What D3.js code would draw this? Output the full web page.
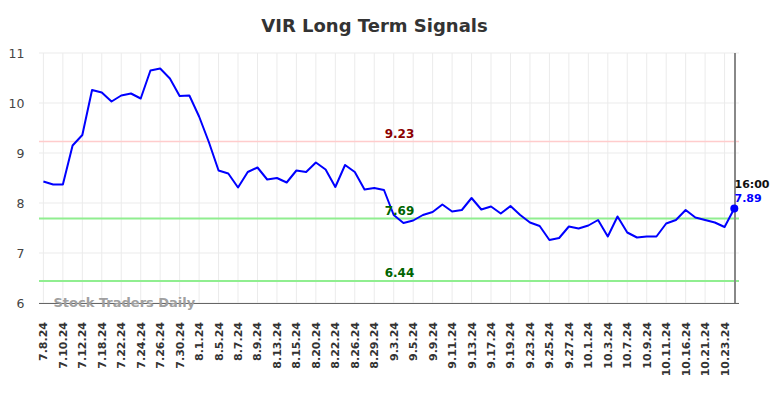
<!DOCTYPE html>
<html><head><meta charset="utf-8">
<script src="https://cdn.jsdelivr.net/npm/d3@7"></script>
<style>html,body{margin:0;padding:0;background:#fff;}svg{display:block;font-family:"DejaVu Sans",sans-serif;}</style>
</head><body>
<svg id="c" width="784" height="398"></svg>
<script>
const dates = ["7.8.24","7.9.24","7.10.24","7.11.24","7.12.24","7.15.24","7.18.24","7.19.24","7.22.24","7.23.24",
"7.24.24","7.25.24","7.26.24","7.29.24","7.30.24","7.31.24","8.1.24","8.2.24","8.5.24","8.6.24",
"8.7.24","8.8.24","8.9.24","8.12.24","8.13.24","8.14.24","8.15.24","8.16.24","8.20.24","8.21.24",
"8.22.24","8.23.24","8.26.24","8.27.24","8.29.24","8.30.24","9.3.24","9.4.24","9.5.24","9.6.24",
"9.9.24","9.10.24","9.11.24","9.12.24","9.13.24","9.16.24","9.17.24","9.18.24","9.19.24","9.20.24",
"9.23.24","9.24.24","9.25.24","9.26.24","9.27.24","9.30.24","10.1.24","10.2.24","10.3.24","10.4.24",
"10.7.24","10.8.24","10.9.24","10.10.24","10.11.24","10.14.24","10.16.24","10.17.24","10.21.24","10.22.24",
"10.23.24","10.24.24"];
const prices = [8.43,8.37,8.37,9.15,9.36,10.26,10.21,10.03,10.15,10.19,
10.09,10.65,10.69,10.49,10.14,10.15,9.73,9.22,8.65,8.59,
8.31,8.62,8.71,8.47,8.50,8.41,8.65,8.62,8.81,8.67,
8.32,8.76,8.62,8.27,8.30,8.26,7.76,7.60,7.65,7.76,
7.82,7.97,7.83,7.86,8.10,7.87,7.93,7.79,7.94,7.76,
7.61,7.54,7.26,7.30,7.53,7.49,7.55,7.66,7.33,7.73,
7.41,7.31,7.33,7.33,7.59,7.66,7.86,7.71,7.66,7.61,
7.52,7.89];
const yTicks = [6,7,8,9,10,11];
const signals = [
  {value:9.23, line:"#ffcccc", text:"#8b0000", w:1.5},
  {value:7.69, line:"#90ee90", text:"#006400", w:2},
  {value:6.44, line:"#90ee90", text:"#006400", w:2}
];
const title = "VIR Long Term Signals";
const watermark = "Stock Traders Daily";
const lastTime = "16:00";

const svg = d3.select("#c");
const x = d3.scalePoint().domain(dates).range([43.4, 734.3]);
const y = d3.scaleLinear().domain([6, 11]).range([303, 53]);
const L = 39, R = 739;

svg.append("text").attr("x", 374.5).attr("y", 32).attr("text-anchor","middle")
  .attr("font-size",18).attr("font-weight","bold").attr("fill","#333").text(title);

// grid
const labelDates = dates.filter((d,i)=> i%2===0);
svg.append("g").selectAll("line").data(labelDates).join("line")
  .attr("x1", d=>x(d)).attr("x2", d=>x(d)).attr("y1", 53).attr("y2", 303)
  .attr("stroke","#ebebeb").attr("stroke-width",1);
svg.append("g").selectAll("line").data(yTicks).join("line")
  .attr("x1", L).attr("x2", R).attr("y1", d=>y(d)).attr("y2", d=>y(d))
  .attr("stroke","#ebebeb").attr("stroke-width",1);

// y labels
svg.append("g").selectAll("text").data(yTicks).join("text")
  .attr("x", 24.5).attr("y", d=>y(d)).attr("dy","0.36em").attr("text-anchor","end")
  .attr("font-size",12.5).attr("fill","#444").text(d=>d);

// signal lines
signals.forEach(s=>{
  svg.append("line").attr("x1",L).attr("x2",R).attr("y1",y(s.value)).attr("y2",y(s.value))
    .attr("stroke",s.line).attr("stroke-width",s.w);
});

// axis line
svg.append("line").attr("x1",L).attr("x2",R).attr("y1",303.5).attr("y2",303.5)
  .attr("stroke","#666").attr("stroke-width",1.2);
// right vertical marker
svg.append("line").attr("x1",735).attr("x2",735).attr("y1",53).attr("y2",303)
  .attr("stroke","#888").attr("stroke-width",2);

// watermark
svg.append("text").attr("x",53.5).attr("y",307).attr("font-size",13).attr("font-weight","bold")
  .attr("fill","#a0a0a0").text(watermark);

// price line
svg.append("path").datum(prices)
  .attr("d", d3.line().x((d,i)=>x(dates[i])).y(d=>y(d)))
  .attr("fill","none").attr("stroke","#0000ff").attr("stroke-width",2).attr("stroke-linejoin","round");

// signal labels
signals.forEach(s=>{
  svg.append("text").attr("x",399.5).attr("y",y(s.value)-4).attr("text-anchor","middle")
    .attr("font-size",12).attr("font-weight","bold").attr("fill",s.text).text(s.value.toFixed(2));
});

// last point
const li = prices.length-1;
svg.append("circle").attr("cx",x(dates[li])).attr("cy",y(prices[li])).attr("r",4).attr("fill","#0000ff");
svg.append("text").attr("x",734.5).attr("y",188).attr("font-size",11).attr("font-weight","bold")
  .attr("fill","#111").text(lastTime);
svg.append("text").attr("x",734.5).attr("y",202).attr("font-size",11).attr("font-weight","bold")
  .attr("fill","#0000ff").text(prices[li].toFixed(2));

// x labels
svg.append("g").selectAll("text").data(labelDates).join("text")
  .attr("transform", d=>`translate(${x(d)},322) rotate(-90)`)
  .attr("dy","0.36em").attr("text-anchor","end")
  .attr("font-size",11).attr("font-weight","bold").attr("fill","#333").text(d=>d);
</script>
</body></html>
